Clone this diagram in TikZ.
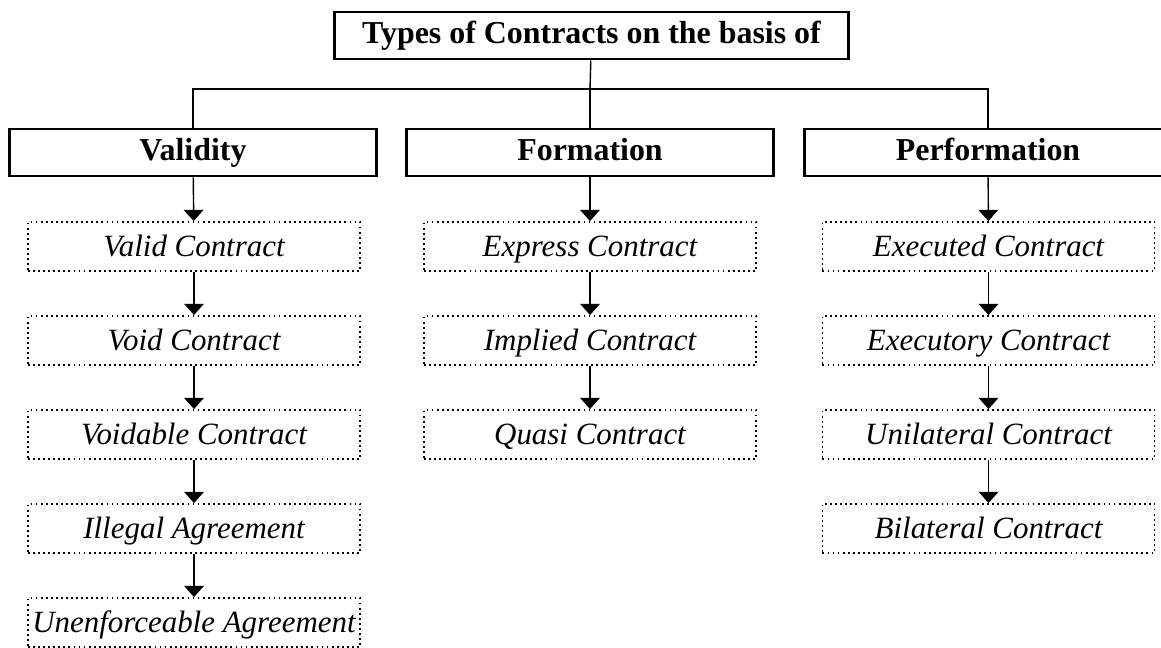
\documentclass[tikz,border=0pt]{standalone}
\usepackage{fontspec}
\setmainfont{Liberation Serif}
\usepackage{tikz}
\usetikzlibrary{arrows.meta}

\tikzset{
  head/.style={draw, line width=2.1pt, minimum width=367*0.7113pt, minimum height=47*0.7113pt,
    inner sep=0pt, text height=16pt, text depth=5.3pt, font=\fontsize{22.7}{26}\selectfont\bfseries},
  kind/.style={draw, line width=1.3pt, dash pattern=on 1.3pt off 2.3pt, minimum width=332*0.7113pt,
    minimum height=49*0.7113pt, inner sep=0pt, text height=18pt, text depth=4.5pt,
    font=\fontsize{22}{26}\selectfont\itshape},
  link/.style={line width=1pt},
  arr/.style={line width=1pt, -{Triangle[width=14pt,length=8pt]}}
}

\begin{document}
\begin{tikzpicture}[x=0.025cm, y=-0.025cm]
      \useasboundingbox (0,0) rectangle (1161,647);
      \node[head, minimum width=514*0.7113pt] (top) at (591.5,35.5) {Types of Contracts on the basis of};
      \coordinate (split) at (590,89);
      % second level
      \node[head] (valid) at (193,152.5) {Validity};
      \node[head] (form) at (590,152.5) {Formation};
      \node[head] (perf) at (988,152.5) {Performation};
      % tree lines
      \draw[link] (top) -- (split);
      \draw[link] (valid.north) |- (split) -| (perf.north);
      \draw[link] (split) -- (form);
      % validity column
      \node[kind] (va1) at (194,246.5) {Valid Contract};
      \node[kind] (va2) at (194,340.5) {Void Contract};
      \node[kind] (va3) at (194,434.5) {Voidable Contract};
      \node[kind] (va4) at (194,528.5) {Illegal Agreement};
      \node[kind] (va5) at (194,622.5) {Unenforceable Agreement};
      \draw[arr] (valid) -- (va1);
      \draw[arr] (va1) -- (va2);
      \draw[arr] (va2) -- (va3);
      \draw[arr] (va3) -- (va4);
      \draw[arr] (va4) -- (va5);
      % formation column
      \node[kind] (fo1) at (590,246.5) {Express Contract};
      \node[kind] (fo2) at (590,340.5) {Implied Contract};
      \node[kind] (fo3) at (590,434.5) {Quasi Contract};
      \draw[arr] (form) -- (fo1);
      \draw[arr] (fo1) -- (fo2);
      \draw[arr] (fo2) -- (fo3);
      % performation column
      \node[kind] (pe1) at (988.5,246.5) {Executed Contract};
      \node[kind] (pe2) at (988.5,340.5) {Executory Contract};
      \node[kind] (pe3) at (988.5,434.5) {Unilateral Contract};
      \node[kind] (pe4) at (988.5,528.5) {Bilateral Contract};
      \draw[arr] (perf) -- (pe1);
      \draw[arr] (pe1) -- (pe2);
      \draw[arr] (pe2) -- (pe3);
      \draw[arr] (pe3) -- (pe4);
    \end{tikzpicture}
\end{document}
